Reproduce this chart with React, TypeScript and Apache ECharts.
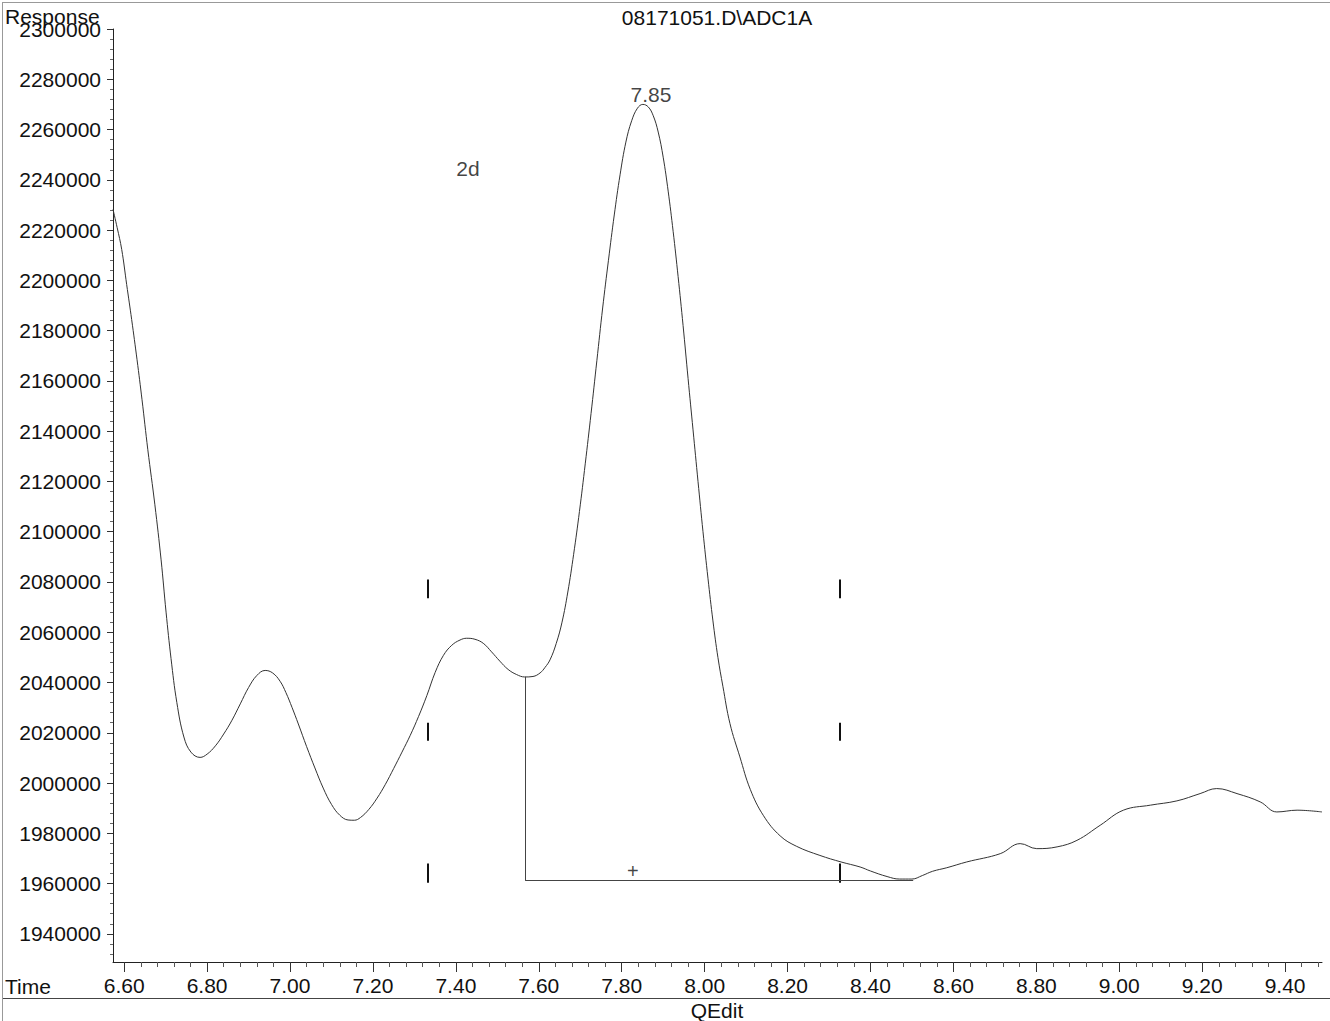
import React, { useEffect, useRef } from 'react';
import * as echarts from 'echarts';

const times = [
  6.573, 6.583, 6.594, 6.606, 6.618, 6.631, 6.643, 6.657, 6.674, 6.689, 6.701, 6.713, 6.727, 6.744, 6.761,
  6.783, 6.8, 6.82, 6.84, 6.86, 6.88, 6.9, 6.92, 6.94, 6.958, 6.976, 6.99, 7.005, 7.02, 7.04,
  7.06, 7.08, 7.1, 7.12, 7.14, 7.155, 7.17, 7.19, 7.21, 7.23, 7.25, 7.27, 7.29, 7.31, 7.33,
  7.35, 7.37, 7.39, 7.41, 7.426, 7.446, 7.466, 7.486, 7.506, 7.526, 7.546, 7.566, 7.586, 7.603, 7.615,
  7.627, 7.642, 7.656, 7.67, 7.684, 7.698, 7.712, 7.726, 7.74, 7.754, 7.768, 7.782, 7.796, 7.81, 7.824,
  7.838, 7.851, 7.864, 7.876, 7.888, 7.9, 7.912, 7.924, 7.936, 7.948, 7.96, 7.972, 7.984, 7.996, 8.008,
  8.02, 8.032, 8.044, 8.061, 8.085, 8.11, 8.142, 8.182, 8.222, 8.278, 8.329, 8.375, 8.4, 8.44, 8.47,
  8.5, 8.525, 8.55, 8.584, 8.632, 8.713, 8.761, 8.801, 8.85, 8.898, 8.954, 9.01, 9.075, 9.139, 9.195,
  9.235, 9.284, 9.34, 9.38, 9.429, 9.489,
];

const responses = [
  2228200, 2221000, 2212300, 2198300, 2184400, 2168400, 2152500, 2132600, 2110700, 2088800, 2068000, 2049500, 2032000, 2018300, 2012300,
  2010200, 2011500, 2014800, 2019500, 2025000, 2031500, 2038000, 2042800, 2044800, 2043800, 2040500, 2036000, 2030000, 2023500, 2014500,
  2006000, 1998000, 1991500, 1987200, 1985300, 1985200, 1986300, 1989500, 1994000, 1999500, 2005800, 2012300, 2019000, 2026500, 2034800,
  2044000, 2050800, 2054800, 2056900, 2057600, 2057200, 2055600, 2052200, 2048500, 2045200, 2043200, 2042200, 2042400, 2043800, 2046000,
  2049000, 2055500, 2064000, 2076000, 2091000, 2108000, 2127000, 2147000, 2168000, 2189000, 2208000, 2226000, 2242000, 2255000, 2263500,
  2268500, 2270000, 2269000, 2265500, 2259000, 2249000, 2235500, 2219500, 2201500, 2182000, 2161000, 2140500, 2120000, 2100000, 2081500,
  2064500, 2050000, 2038500, 2023700, 2010400, 1997500, 1987000, 1979000, 1974800, 1971200, 1968600, 1966600, 1965000, 1962800, 1961800,
  1961800, 1963200, 1964900, 1966300, 1968600, 1971900, 1975900, 1973900, 1974600, 1977200, 1983200, 1989200, 1991200, 1992900, 1995800,
  1997800, 1995800, 1992500, 1988500, 1989200, 1988500,
];

const xMajorTicks = [6.6, 6.8, 7.0, 7.2, 7.4, 7.6, 7.8, 8.0, 8.2, 8.4, 8.6, 8.8, 9.0, 9.2, 9.4];
const yMajorTicks = [
  1940000, 1960000, 1980000, 2000000, 2020000, 2040000, 2060000, 2080000, 2100000, 2120000,
  2140000, 2160000, 2180000, 2200000, 2220000, 2240000, 2260000, 2280000, 2300000,
];

const X_MIN = 6.573;
const X_MAX = 9.489;
const Y_MIN = 1928800;
const Y_MAX = 2300000;

// integration event marks (time, [from, to] pairs)
const eventTimes = [7.333, 8.327];
const eventSpans = [
  [2081000, 2073500],
  [2024000, 2016800],
  [1968000, 1960300],
];

// baseline drawn under the peak
const baselineStart = 7.567;
const baselineEnd = 8.503;
const baselineTop = 2042300;
const baselineLevel = 1961300;

const peakLabel = { text: '7.85', t: 7.8707, v: 2274000 };
const compoundLabel = { text: '2d', t: 7.429, v: 2244500 };
const plusMark = { text: '+', t: 7.827, v: 1965200 };

const FONT = '"Liberation Sans", Arial, sans-serif';

function buildMinor(min: number, max: number, step: number, majors: number[]): number[] {
  const out: number[] = [];
  const start = Math.ceil(min / step - 1e-9);
  const end = Math.floor(max / step + 1e-9);
  for (let i = start; i <= end; i++) {
    const v = Math.round(i * step * 1e6) / 1e6;
    if (!majors.some((m) => Math.abs(m - v) < step / 10)) out.push(v);
  }
  return out;
}

export default function App() {
  const ref = useRef<HTMLDivElement>(null);
  useEffect(() => {
    document.body.style.margin = '0';
    const chart = echarts.init(ref.current!, null, { renderer: 'svg' });
    const xMinor = buildMinor(X_MIN, X_MAX, 0.04, xMajorTicks);
    const yMinor = buildMinor(Y_MIN, Y_MAX, 4000, yMajorTicks);
    const curve = times.map((t, i) => [t, responses[i]]);

    const markSegments: any[] = [];
    eventTimes.forEach((t) => {
      eventSpans.forEach(([a, b]) => {
        markSegments.push([{ coord: [t, a] }, { coord: [t, b] }]);
      });
    });
    const baselineSegments: any[] = [
      [{ coord: [baselineStart, baselineTop] }, { coord: [baselineStart, baselineLevel] }],
      [{ coord: [baselineStart, baselineLevel] }, { coord: [baselineEnd, baselineLevel] }],
    ];

    const option: any = {
      animation: false,
      backgroundColor: '#ffffff',
      grid: { left: 113, right: 8, top: 29, bottom: 59, containLabel: false, outerBoundsMode: 'none' },
      xAxis: [
        {
          type: 'value',
          min: X_MIN,
          max: X_MAX,
          position: 'bottom',
          axisLine: { show: true, lineStyle: { color: '#222', width: 1 } },
          axisTick: { show: true, customValues: xMajorTicks, length: 10, lineStyle: { color: '#333', width: 1 } },
          axisLabel: {
            show: true,
            customValues: xMajorTicks,
            formatter: (v: number) => v.toFixed(2),
            fontSize: 21,
            fontFamily: FONT,
            color: '#111',
            margin: 13,
          },
          splitLine: { show: false },
        },
        {
          type: 'value',
          min: X_MIN,
          max: X_MAX,
          position: 'bottom',
          axisLine: { show: false },
          axisTick: { show: true, customValues: xMinor, length: 5, lineStyle: { color: '#555', width: 1 } },
          axisLabel: { show: false },
          splitLine: { show: false },
        },
      ],
      yAxis: [
        {
          type: 'value',
          min: Y_MIN,
          max: Y_MAX,
          position: 'left',
          axisLine: { show: true, lineStyle: { color: '#222', width: 1 } },
          axisTick: { show: true, customValues: yMajorTicks, length: 6, lineStyle: { color: '#333', width: 1 } },
          axisLabel: {
            show: true,
            customValues: yMajorTicks,
            formatter: (v: number) => String(Math.round(v)),
            fontSize: 21,
            fontFamily: FONT,
            color: '#111',
            margin: 12,
          },
          splitLine: { show: false },
        },
        {
          type: 'value',
          min: Y_MIN,
          max: Y_MAX,
          position: 'left',
          axisLine: { show: false },
          axisTick: { show: true, customValues: yMinor, length: 3, lineStyle: { color: '#666', width: 1 } },
          axisLabel: { show: false },
          splitLine: { show: false },
        },
      ],
      series: [
        {
          type: 'line',
          data: curve,
          xAxisIndex: 0,
          yAxisIndex: 0,
          smooth: 0.4,
          showSymbol: false,
          symbol: 'none',
          lineStyle: { color: '#333', width: 1 },
          silent: true,
          markLine: {
            silent: true,
            symbol: ['none', 'none'],
            label: { show: false },
            animation: false,
            lineStyle: { color: '#111', width: 2, type: 'solid' },
            data: markSegments,
          },
        },
        {
          type: 'line',
          data: [],
          markLine: {
            silent: true,
            symbol: ['none', 'none'],
            label: { show: false },
            animation: false,
            lineStyle: { color: '#444', width: 1, type: 'solid' },
            data: baselineSegments,
          },
        },
        {
          type: 'scatter',
          symbolSize: 0,
          silent: true,
          data: [peakLabel, compoundLabel, plusMark].map((d) => ({
            value: [d.t, d.v],
            label: {
              show: true,
              position: 'inside',
              formatter: d.text,
              fontSize: d.text === '+' ? 20 : 21,
              fontFamily: FONT,
              color: '#111',
            },
          })),
        },
      ],
      graphic: [
        { type: 'line', shape: { x1: 3, y1: 2.5, x2: 1330, y2: 2.5 }, style: { stroke: '#999', lineWidth: 1 } },
        { type: 'line', shape: { x1: 2.5, y1: 2, x2: 2.5, y2: 1021 }, style: { stroke: '#999', lineWidth: 1 } },
        { type: 'line', shape: { x1: 3, y1: 998.5, x2: 1330, y2: 998.5 }, style: { stroke: '#444', lineWidth: 1 } },
        {
          type: 'text',
          left: 5,
          top: 6,
          style: { text: 'Response', font: `21px ${FONT}`, fill: '#111' },
        },
        {
          type: 'text',
          x: 717,
          y: 17,
          style: { text: '08171051.D\\ADC1A', font: `21px ${FONT}`, fill: '#111', textAlign: 'center', textVerticalAlign: 'middle' },
        },
        {
          type: 'text',
          x: 5,
          y: 986,
          style: { text: 'Time', font: `21px ${FONT}`, fill: '#111', textAlign: 'left', textVerticalAlign: 'middle' },
        },
        {
          type: 'text',
          x: 717,
          y: 1010,
          style: { text: 'QEdit', font: `21px ${FONT}`, fill: '#111', textAlign: 'center', textVerticalAlign: 'middle' },
        },
      ],
    };
    chart.setOption(option);
    return () => chart.dispose();
  }, []);
  return <div ref={ref} style={{ width: 1330, height: 1021 }} />;
}
